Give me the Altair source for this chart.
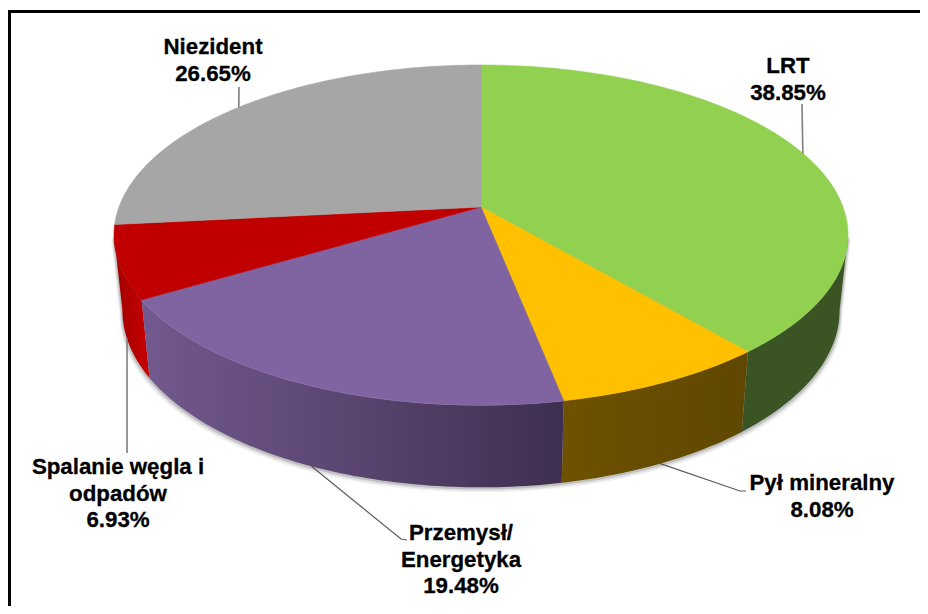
import math
import altair as alt
import pandas as pd

# ---- values
categories = ["LRT", "Pył mineralny", "Przemysł/Energetyka", "Spalanie węgla i odpadów", "Niezident"]
shares = [38.85, 8.08, 19.48, 6.93, 26.65]
label_lines = [["LRT"], ["Pył mineralny"], ["Przemysł/", "Energetyka"], ["Spalanie węgla i", "odpadów"], ["Niezident"]]

# ---- styles
top_colors = ["#92D050", "#FFC000", "#8064A2", "#C00000", "#A6A6A6"]
wall_stops = [
    ["#3A5423", "#3A5423"],
    ["#6E5200", "#5F4700"],
    ["#72598F", "#594570", "#3E2E4F"],
    ["#A00000", "#C80000"],
    ["#6E6E6E", "#6E6E6E"],
]

# ---- layout of the tilted disc (page pixels)
W, H, M = 912, 598, 8
CX, CY, RX, RY, K = 481, 207, 362, 165.4, 0.1647
BX, BY, BD = 0.977, 1.04, 74.4
label_x = [788, 822, 461, 118, 213]
label_y = [73, 490, 540, 474, 54]
line_gap = 26.5
elbows = [[], [(740, 491), (746, 491)], [(401, 539), (407, 540)], [(127, 453)], []]
leader_tops = [(802, 104), None, None, None, (239, 87)]
# the disc's widest points: the wall is only visible between them
T0 = math.degrees(math.acos(-K))
T1 = 360 - T0


def top(t):
    r = math.radians(t)
    d = 1 + K * math.cos(r)
    return RX * math.sin(r) / d, -RY * math.cos(r) / d


def on_top(t):
    x, y = top(t)
    return CX + x, CY + y


def on_bottom(t):
    x, y = top(t)
    return CX + BX * x, CY + BY * y + BD


def sweep(a, b):
    n = max(2, int(abs(b - a)) + 1)
    return [a + (b - a) * i / n for i in range(n + 1)]


X = alt.Scale(domain=[M, M + W], nice=False, zero=False)
Y = alt.Scale(domain=[M + H, M], nice=False, zero=False)


def frame(points):
    return pd.DataFrame({"x": [p[0] for p in points], "y": [p[1] for p in points], "i": range(len(points))})


def enc(chart):
    return chart.encode(
        x=alt.X("x:Q", scale=X, axis=None),
        y=alt.Y("y:Q", scale=Y, axis=None),
        order="i:Q",
    )


def polygon(points, **mark):
    return enc(alt.Chart(frame(points)).mark_line(clip=False, **mark))


def gradient(stops):
    return alt.Gradient(
        gradient="linear", x1=0, x2=1, y1=0, y2=0,
        stops=[alt.GradientStop(color=c, offset=i / (len(stops) - 1)) for i, c in enumerate(stops)],
    )


cum = [0]
for s in shares:
    cum.append(cum[-1] + s)
total = cum[-1]
starts = [c / total * 360 for c in cum[:-1]]
ends = [c / total * 360 for c in cum[1:]]
mids = [(a + b) / 2 for a, b in zip(starts, ends)]

layers = []

# soft shadow under the wall
for off, op in [(5, 0.05), (3.5, 0.08), (2, 0.14)]:
    pts = [on_top(T0)] + [on_bottom(t) for t in sweep(T0, T1)] + [on_top(T1)]
    pts = [(x + (off * 0.6 if x > CX else -off * 0.6), y + off) for x, y in pts]
    layers.append(polygon(pts, fill="#000000", fillOpacity=op, strokeOpacity=0, strokeWidth=0))

# walls, back to front (only the part of each slice that faces the viewer)
for idx in [3, 0, 1, 2]:
    a, b = max(starts[idx], T0), min(ends[idx], T1)
    pts = [on_top(t) for t in sweep(a, b)] + [on_bottom(t) for t in sweep(b, a)]
    layers.append(polygon(pts, fill=gradient(wall_stops[idx]), strokeOpacity=0, strokeWidth=0))

# rim highlight on the purple wall
layers.append(polygon([on_top(t) for t in sweep(starts[2], ends[2])], color="#A48FC0", strokeWidth=1.0))

# top faces
for idx in range(len(shares)):
    pts = [(CX, CY)] + [on_top(t) for t in sweep(starts[idx], ends[idx])] + [(CX, CY)]
    layers.append(polygon(pts, fill=top_colors[idx], stroke=top_colors[idx], strokeWidth=0.6))

# leader lines: they start at the middle of each slice's rim
for idx, m in enumerate(mids):
    if leader_tops[idx]:
        pts = [on_top(m), leader_tops[idx]]
        c, w = "#7F7F7F", 1.6
    else:
        pts = [on_bottom(m)] + elbows[idx]
        c, w = ("#7F7F7F", 1.6) if idx == 3 else ("#595959", 1.2)
    layers.append(polygon(pts, color=c, strokeWidth=w))

# labels
rows = []
for idx, lines in enumerate(label_lines):
    texts = lines + [f"{shares[idx]:.2f}%"]
    for j, t in enumerate(texts):
        rows.append({"x": label_x[idx], "y": label_y[idx] + j * line_gap, "t": t})
layers.append(
    alt.Chart(pd.DataFrame(rows))
    .mark_text(font="Liberation Sans", fontWeight="bold", fontSize=22.3, color="#000000", stroke="#000000",
               strokeWidth=0.3, align="center", baseline="alphabetic")
    .encode(x=alt.X("x:Q", scale=X, axis=None), y=alt.Y("y:Q", scale=Y, axis=None), text="t:N")
)

# frame of the picture (top and left only are in view)
layers.append(polygon([(M + 1.5, M + H), (M + 1.5, 11.5), (M + W, 11.5)], color="#000000", strokeWidth=3))

chart = (
    alt.layer(*layers)
    .properties(width=W, height=H, padding=0, autosize=alt.AutoSizeParams(type="none"), background="#FFFFFF")
    .configure_view(stroke=None)
)
chart.save("out.html", embed_options={"renderer": "svg", "actions": False})
